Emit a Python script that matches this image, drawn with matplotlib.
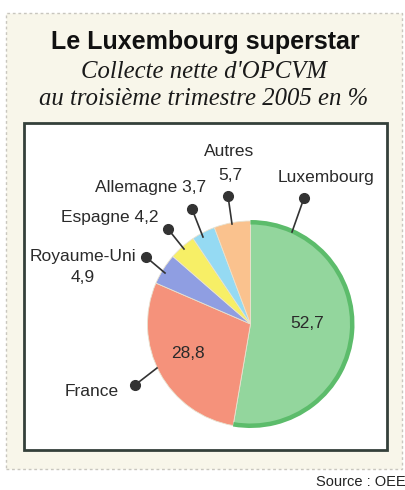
import matplotlib
matplotlib.use("Agg")
import matplotlib.pyplot as plt
from matplotlib.patches import Rectangle

categories = ['Luxembourg', 'France', 'Royaume-Uni', 'Espagne', 'Allemagne', 'Autres']
values = [52.7, 28.8, 4.9, 4.2, 3.7, 5.7]
value_labels = ['52,7', '28,8', '4,9', '4,2', '3,7', '5,7']
colors = ['#93d69d', '#f5927b', '#8f9ee2', '#f7ef66', '#95daf3', '#fac28e']

W, H = 406, 490
fig = plt.figure(figsize=(4.06, 4.9), dpi=100)
ax = fig.add_axes([0, 0, 1, 1])

def Y(y):
    return H - y

# outer panel
ax.add_patch(Rectangle((6, Y(469)), 396, 456, facecolor='#f8f6ea',
                       edgecolor='#c8c6be', lw=1, ls=(0, (2, 2)), zorder=0))
# inner box
ax.add_patch(Rectangle((24, Y(450)), 363, 327, facecolor='white',
                       edgecolor='#34403a', lw=2, zorder=1))

ax.text(205, Y(42), 'Le Luxembourg superstar', ha='center', va='center',
        fontsize=18, fontweight='bold', family='Liberation Sans', color='#111111')
ax.text(204, Y(72), "Collecte nette d'OPCVM", ha='center', va='center',
        fontsize=17.8, style='italic', family='Liberation Serif', color='#1a1a1a')
ax.text(204, Y(99), 'au troisième trimestre 2005 en %', ha='center', va='center',
        fontsize=17.8, style='italic', family='Liberation Serif', color='#1a1a1a')

cx, cy, r = 250.5, Y(324), 103
ax.pie(values, colors=colors, startangle=90, counterclock=False,
       center=(cx, cy), radius=r, frame=True,
       wedgeprops=dict(linewidth=0.6, edgecolor='#e8e2d0'))
# darker green rim on Luxembourg slice
ax.pie([values[0], sum(values) - values[0]], colors=['#5cbc6b', 'none'],
       startangle=90, counterclock=False, center=(cx, cy), radius=r + 1,
       frame=True, wedgeprops=dict(width=4.5, linewidth=0))
ax.set_xlim(0, W)
ax.set_ylim(0, H)
ax.set_aspect('equal')
ax.axis('off')

lab_kw = dict(family='Liberation Sans', fontsize=12.5, color='#2a2a2a',
              ha='center', va='center')
ax.text(326, Y(177), categories[0], **lab_kw)
ax.text(92, Y(391), categories[1], **lab_kw)
ax.text(83, Y(256), categories[2], **lab_kw)
ax.text(83, Y(278), value_labels[2], **lab_kw)
ax.text(110, Y(217), categories[3] + ' ' + value_labels[3], **lab_kw)
ax.text(151, Y(187), categories[4] + ' ' + value_labels[4], **lab_kw)
ax.text(229, Y(151), categories[5], **lab_kw)
ax.text(230, Y(175), value_labels[5], **lab_kw)
ax.text(307, Y(323), value_labels[0], **lab_kw)
ax.text(188, Y(353), value_labels[1], **lab_kw)

# leader lines with dots (dot, pie edge)
leaders = [((304, 198), (292, 232)),
           ((135, 385), (157, 368)),
           ((146, 257), (165, 273)),
           ((168, 229), (184, 249)),
           ((192, 209), (203, 237)),
           ((228, 196), (232, 224))]
for (x0, y0), (x1, y1) in leaders:
    ax.plot([x0, x1], [Y(y0), Y(y1)], color='#333333', lw=1.2, zorder=5)
    ax.plot([x0], [Y(y0)], 'o', color='#333333', ms=7, zorder=6)

ax.text(316, Y(482), 'Source : OEE', ha='left', va='center', fontsize=10.5,
        family='Liberation Sans', color='#222222', clip_on=False)

fig.savefig('out.png', dpi=100)
